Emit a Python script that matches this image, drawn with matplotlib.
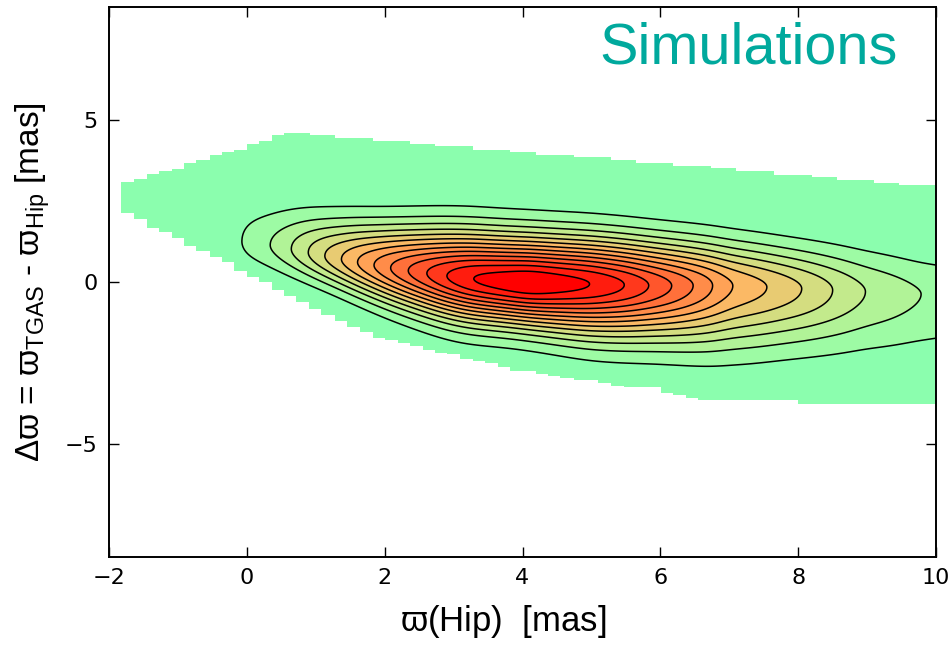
#!/usr/bin/python3

"""
Parallax difference between TGAS and Hipparcos for the simulated sample,
drawn as filled density contours over the sample footprint.
"""

import sys

import matplotlib
matplotlib.use("Agg")
import matplotlib.pyplot as plt
import numpy


# Footprint of the simulated sample: stepped upper edge ...
top_edges = [-1.82, -1.63, -1.45, -1.27, -1.09, -0.91, -0.73, -0.54, -0.36,
             -0.18, 0.00, 0.18, 0.36, 0.54, 0.92, 1.28, 1.83, 2.37, 2.73,
             3.28, 3.82, 4.19, 4.74, 5.28, 5.65, 6.19, 6.73, 7.10, 7.65,
             8.20, 8.56, 9.10, 9.46]
top_values = [3.09, 3.17, 3.34, 3.43, 3.50, 3.68, 3.76, 3.94, 4.01, 4.09,
              4.27, 4.35, 4.53, 4.61, 4.53, 4.46, 4.35, 4.28, 4.20, 4.09,
              4.02, 3.94, 3.86, 3.77, 3.68, 3.60, 3.51, 3.43, 3.32, 3.24,
              3.15, 3.06, 2.99]

# ... and stepped lower edge.
bottom_edges = [-1.82, -1.63, -1.45, -1.27, -1.09, -0.91, -0.73, -0.54,
                -0.36, -0.18, 0.00, 0.18, 0.36, 0.54, 0.72, 0.90, 1.08,
                1.28, 1.46, 1.64, 1.83, 2.01, 2.19, 2.37, 2.55, 2.73, 2.90,
                3.09, 3.28, 3.46, 3.64, 3.82, 4.19, 4.37, 4.55, 4.74, 5.10,
                5.28, 5.47, 6.01, 6.19, 6.37, 6.55, 8.00]
bottom_values = [2.14, 1.96, 1.68, 1.54, 1.37, 1.11, 0.96, 0.77, 0.61, 0.35,
                 0.17, 0.00, -0.26, -0.44, -0.61, -0.84, -1.03, -1.20, -1.39,
                 -1.54, -1.72, -1.80, -1.87, -1.98, -2.11, -2.18, -2.23,
                 -2.37, -2.44, -2.51, -2.64, -2.75, -2.85, -2.90, -2.98,
                 -3.03, -3.11, -3.21, -3.26, -3.42, -3.50, -3.57, -3.65,
                 -3.76]
footprint_end = 10.0

# Density along the ridge (in contour-level units): where each level closes.
peak_x = [-0.35, -0.11, 0.37, 0.66, 0.89, 1.13, 1.38, 1.60, 1.85, 2.08,
          2.34, 2.61, 2.89, 3.24, 4.10, 5.01, 5.50, 5.83, 6.17, 6.48, 6.77,
          7.00, 7.55, 8.06, 8.50, 8.94, 9.74, 10.40]
peak_density = [0.0, 1.0, 2.0, 3.0, 4.0, 5.0, 6.0, 7.0, 8.0, 9.0, 10.0,
                11.0, 12.0, 13.0, 14.0, 13.0, 12.0, 11.0, 10.0, 9.0, 8.0,
                7.0, 6.0, 5.0, 4.0, 3.0, 2.0, 1.6]

# Ridge centre and spread above / below it.
station_x = [-0.1, 0.5, 1.0, 2.0, 3.0, 4.0, 5.0, 6.0, 7.0, 8.0, 9.0, 10.0]
ridge_center = [1.30, 1.10, 0.85, 0.45, 0.15, -0.03, -0.06, -0.12, -0.10,
                -0.20, -0.30, -0.40]
spread_up = [0.76, 0.83, 0.84, 0.90, 0.99, 0.99, 0.97, 0.94, 0.90, 0.86,
             0.86, 0.82]
spread_down = [0.57, 0.59, 0.58, 0.76, 0.91, 0.89, 1.06, 1.11, 1.27, 1.19,
               1.20, 1.22]

contour_levels = list(range(1, 14))


def smooth(values, step, sigma=0.15):
    half = int(4 * sigma / step)
    k = numpy.exp(-0.5 * (numpy.arange(-half, half + 1) * step / sigma) ** 2)
    k /= k.sum()
    padded = numpy.pad(values, half, mode="edge")
    return numpy.convolve(padded, k, mode="valid")


def density_grid():
    gx = numpy.linspace(-2.0, 10.5, 700)
    gy = numpy.linspace(-8.5, 8.5, 600)
    step = gx[1] - gx[0]
    amp = smooth(numpy.interp(gx, peak_x, peak_density, left=0.0), step)
    cen = smooth(numpy.interp(gx, station_x, ridge_center), step, 0.3)
    wu = smooth(numpy.interp(gx, station_x, spread_up), step, 0.3)
    wd = smooth(numpy.interp(gx, station_x, spread_down), step, 0.3)
    X, Y = numpy.meshgrid(gx, gy)
    d = Y - cen
    w = numpy.where(d > 0, wu, wd)
    Z = amp * numpy.exp(-0.5 * (d / w) ** 2)
    return X, Y, Z


def stepped_outline():
    xs, ys = [], []
    ends = top_edges[1:] + [footprint_end]
    for x0, x1, v in zip(top_edges, ends, top_values):
        xs += [x0, x1]
        ys += [v, v]
    ends = bottom_edges[1:] + [footprint_end]
    for x0, x1, v in reversed(list(zip(bottom_edges, ends, bottom_values))):
        xs += [x1, x0]
        ys += [v, v]
    return xs, ys


def main():
    plt.rcParams["font.family"] = ["DejaVu Sans"]
    plt.rcParams["mathtext.fontset"] = "custom"
    plt.rcParams["mathtext.rm"] = "Liberation Sans"
    plt.rcParams["mathtext.it"] = "Liberation Sans:italic"
    plt.rcParams["mathtext.fallback"] = "stixsans"

    fig = plt.figure(figsize=(9.5, 6.45), dpi=100)
    ax = fig.add_axes([0.1147, 0.1364, 0.8706, 0.8527])

    cmap = matplotlib.colormaps["rainbow"]
    n = len(contour_levels)
    base = 0.52
    band_colors = [cmap(base + (1.0 - base) * k / n) for k in range(1, n + 1)]

    xs, ys = stepped_outline()
    ax.fill(xs, ys, color=cmap(base), linewidth=0, zorder=1)

    X, Y, Z = density_grid()
    ax.contourf(X, Y, Z, levels=contour_levels + [100], colors=band_colors,
                zorder=2)
    ax.contour(X, Y, Z, levels=contour_levels, colors="k", linewidths=1.1,
               zorder=3)

    ax.set_xlim(-2, 10)
    ax.set_ylim(-8.5, 8.5)
    ax.set_xticks([-2, 0, 2, 4, 6, 8, 10])
    ax.set_yticks([-5, 0, 5])
    ax.tick_params(direction="in", length=7, width=1, top=True, right=True,
                   labelsize=16, pad=8)
    for spine in ax.spines.values():
        spine.set_linewidth(1.4)

    label_font = ["Liberation Sans", "DejaVu Sans"]
    ax.set_xlabel(r"$\mathrm{\varpi}$(Hip)  [mas]", fontsize=25,
                  family=label_font, labelpad=11)
    # The x label sits a little left of the axis centre.
    ax.xaxis.label.set_x(0.476)
    ax.set_ylabel(r"$\mathrm{\Delta\varpi}$ = $\mathrm{\varpi_{TGAS}}$ - "
                  r"$\mathrm{\varpi_{Hip}}$ [mas]", fontsize=24,
                  family=label_font, labelpad=9)

    ax.text(0.954, 0.898, "Simulations", transform=ax.transAxes,
            ha="right", va="baseline", fontsize=41.5, color="#00a99d",
            family=label_font, zorder=5)

    fig.savefig("out.png", dpi=100)


if __name__ == "__main__":
    sys.exit(main())
